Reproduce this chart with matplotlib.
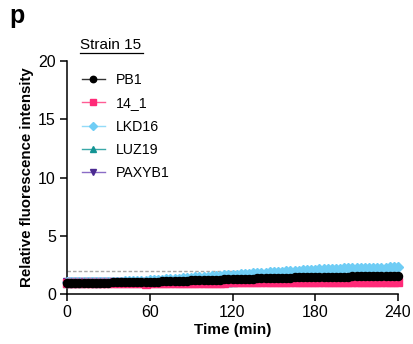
import numpy as np
import matplotlib
matplotlib.use("Agg")
import matplotlib.pyplot as plt

plt.rcParams['font.family'] = ['Liberation Sans', 'DejaVu Sans']

time_min = list(range(0, 241, 3))

pb1 = [0.95,0.95,0.96,0.96,0.96,0.97,0.97,0.97,0.98,0.98,0.98,
       0.99,0.99,1.00,1.00,1.01,1.02,1.02,1.03,1.04,1.05,
       1.06,1.07,1.08,1.09,1.10,1.11,1.12,1.13,1.14,1.16,
       1.17,1.18,1.19,1.21,1.22,1.23,1.24,1.26,1.27,1.28,
       1.29,1.30,1.31,1.32,1.33,1.34,1.35,1.36,1.37,1.38,
       1.39,1.40,1.40,1.41,1.42,1.43,1.43,1.44,1.45,1.45,
       1.46,1.47,1.47,1.48,1.48,1.49,1.50,1.50,1.51,1.51,
       1.52,1.52,1.53,1.53,1.54,1.54,1.55,1.55,1.56,1.56]

s14_1 = [0.93,0.92,0.93,0.92,0.93,0.92,0.93,0.93,0.92,0.93,0.92,
         0.92,0.93,0.92,0.93,0.92,0.93,0.91,0.92,0.90,0.91,
         0.92,0.93,0.93,0.94,0.94,0.94,0.95,0.95,0.95,0.96,
         0.96,0.96,0.97,0.97,0.97,0.98,0.98,0.98,0.99,0.99,
         0.99,1.00,1.00,1.00,1.01,1.01,1.01,1.02,1.02,1.02,
         1.02,1.02,1.03,1.03,1.03,1.02,1.03,1.01,1.02,1.03,
         1.03,1.04,1.03,1.04,1.04,1.03,1.04,1.04,1.04,1.05,
         1.04,1.05,1.05,1.04,1.05,1.05,1.05,1.06,1.05,1.06]

lkd16 = [1.00,1.00,1.00,1.01,1.01,1.01,1.02,1.02,1.03,1.03,1.04,
         1.05,1.06,1.07,1.08,1.09,1.10,1.12,1.13,1.15,1.17,
         1.19,1.21,1.23,1.25,1.27,1.29,1.32,1.34,1.37,1.39,
         1.42,1.44,1.47,1.49,1.52,1.54,1.57,1.59,1.62,1.64,
         1.67,1.69,1.72,1.74,1.77,1.79,1.82,1.84,1.87,1.89,
         1.91,1.93,1.95,1.97,1.99,2.01,2.03,2.05,2.07,2.09,
         2.11,2.12,2.14,2.15,2.17,2.18,2.19,2.20,2.21,2.22,
         2.23,2.24,2.25,2.25,2.26,2.27,2.27,2.28,2.28,2.29]

luz19 = [0.98,0.98,0.99,0.98,0.99,0.99,0.99,0.98,0.99,0.99,0.99,
         0.99,0.99,1.00,0.99,1.00,1.00,1.00,1.00,1.01,1.01,
         1.01,1.01,1.02,1.02,1.02,1.03,1.03,1.03,1.04,1.04,
         1.04,1.05,1.05,1.05,1.06,1.06,1.06,1.07,1.07,1.07,
         1.08,1.08,1.08,1.09,1.09,1.09,1.10,1.10,1.10,1.11,
         1.11,1.11,1.12,1.12,1.12,1.13,1.13,1.13,1.14,1.14,
         1.14,1.15,1.15,1.15,1.16,1.16,1.16,1.17,1.17,1.17,
         1.18,1.18,1.18,1.19,1.19,1.19,1.20,1.20,1.20,1.21]

paxyb1 = [1.03,1.03,1.04,1.04,1.04,1.04,1.05,1.04,1.05,1.05,1.05,
          1.05,1.05,1.06,1.06,1.06,1.06,1.06,1.07,1.07,1.07,
          1.07,1.08,1.08,1.08,1.08,1.09,1.09,1.09,1.10,1.10,
          1.10,1.10,1.11,1.11,1.11,1.12,1.12,1.12,1.12,1.13,
          1.13,1.13,1.14,1.14,1.14,1.14,1.15,1.15,1.15,1.16,
          1.16,1.16,1.16,1.17,1.17,1.17,1.18,1.18,1.18,1.18,
          1.19,1.19,1.19,1.20,1.20,1.20,1.20,1.21,1.21,1.21,
          1.22,1.22,1.22,1.22,1.23,1.23,1.23,1.24,1.24,1.24]

threshold = 2.0
series_names = ["PB1", "14_1", "LKD16", "LUZ19", "PAXYB1"]
x_ticks = [0, 60, 120, 180, 240]
y_ticks = [0, 5, 10, 15, 20]

fig = plt.figure(figsize=(4.13, 3.44), dpi=100)
ax = fig.add_axes([67/413, 1-294/344, (398-67)/413, (294-61)/344])

styles = {
    "PB1":    dict(data=pb1,    mc="#000000", lc="#333333", m="o", ms=5.8, lms=4.6, z=10),
    "14_1":   dict(data=s14_1,  mc="#ff2a78", lc="#ff5c95", m="s", ms=5.2, lms=4.4, z=6),
    "LKD16":  dict(data=lkd16,  mc="#6fcdf5", lc="#93dbf8", m="D", ms=4.8, lms=4.2, z=5),
    "LUZ19":  dict(data=luz19,  mc="#139494", lc="#3aa8a8", m="^", ms=5.2, lms=4.6, z=4),
    "PAXYB1": dict(data=paxyb1, mc="#4b2a91", lc="#8a6cc6", m="v", ms=5.2, lms=4.6, z=3),
}

ax.plot([0, 240], [threshold, threshold], ls=(0, (2.5, 1.5)), color="#a8a8a8",
        lw=1.0, zorder=2)

for name in series_names:
    st = styles[name]
    ax.plot(time_min, st["data"], color=st["lc"], lw=1.0, marker=st["m"],
            ms=st["ms"], mfc=st["mc"], mec=st["mc"], zorder=st["z"],
            clip_on=False, label=name)

ax.set_xlim(0, 240)
ax.set_ylim(0, 20)
ax.set_xticks(x_ticks)
ax.set_yticks(y_ticks)
ax.spines['top'].set_visible(False)
ax.spines['right'].set_visible(False)
for s in ['left', 'bottom']:
    ax.spines[s].set_linewidth(1.1)
ax.tick_params(axis='both', width=1.1, length=5, labelsize=11.5, pad=3)

ax.set_xlabel("Time (min)", fontsize=11, fontweight='bold', labelpad=2)
ax.set_ylabel("Relative fluorescence intensity", fontsize=10.8, fontweight='bold', labelpad=3)

legend_handles = []
for name in series_names:
    st = styles[name]
    legend_handles.append(plt.Line2D([], [], color=st["lc"], lw=1.0, marker=st["m"],
                                     ms=st["lms"], mfc=st["mc"], mec=st["mc"]))
leg = ax.legend(legend_handles, series_names, loc='upper left', bbox_to_anchor=(0.02, 0.985),
                frameon=False, fontsize=10.2, handlelength=1.6, handletextpad=0.75,
                labelspacing=0.66, borderaxespad=0.2)

fig.text(80/413, 1-45/344, "Strain 15", fontsize=11, ha='left', va='center')
fig.add_artist(plt.Line2D([80/413, 143/413], [1-53/344, 1-53/344], color='black', lw=0.9))
fig.text(9/413, 1-16/344, "p", fontsize=18, fontweight='heavy', ha='left', va='center')

fig.savefig("out.png", dpi=100)
